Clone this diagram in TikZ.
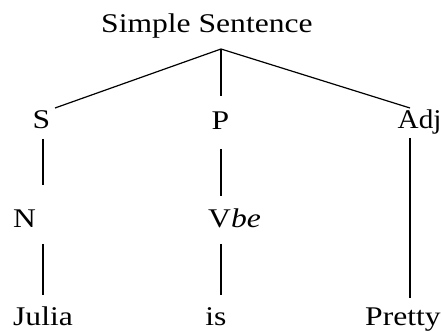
\documentclass[tikz,border=0pt]{standalone}
\usepackage{fontspec}
\usepackage{graphicx}
\setmainfont{Liberation Serif}
\newcommand{\wide}[1]{\scalebox{1.17}[1]{#1}}
\begin{document}
\begin{tikzpicture}[x=1pt,y=-1pt,
  lbl/.style={inner sep=0pt,font=\fontsize{27}{30}\selectfont},
  edge/.style={line width=1.2pt,black}]
\useasboundingbox (0,0) rectangle (442,331);
% nodes
\node[lbl,anchor=base west] (ss) at (101,33) {\wide{Simple Sentence}};
\node[lbl,anchor=base] (s) at (41.5,129) {\wide{S}};
\node[lbl,anchor=base] (p) at (220.5,130) {\wide{P}};
\node[lbl,anchor=base west] (adj) at (397.5,129) {\scalebox{1.08}[1]{Adj}};
\node[lbl,anchor=base west] (n) at (13,228) {\wide{N}};
\node[lbl,anchor=base west] (v) at (208,228) {\wide{V\textit{be}}};
\node[lbl,anchor=base west] (julia) at (13,325) {\wide{Julia}};
\node[lbl,anchor=base] (is) at (216,325) {\wide{is}};
\node[lbl,anchor=base west] (pretty) at (365,325) {\wide{Pretty}};
% connector end points
\coordinate (apex) at (221,49);
\coordinate (sT) at (55,108);
\coordinate (pT) at (221,96);
\coordinate (adjT) at (410,108);
\coordinate (sB) at (43,139);
\coordinate (nT) at (43,185);
\coordinate (pB) at (221,149);
\coordinate (vT) at (221,196);
\coordinate (nB) at (43,244);
\coordinate (juliaT) at (43,295);
\coordinate (vB) at (221,244);
\coordinate (isT) at (221,295);
\coordinate (adjB) at (410,138);
\coordinate (prettyT) at (410,298);
% connectors
\draw[edge] (apex) -- (sT);
\draw[edge] (apex) -- (pT);
\draw[edge] (apex) -- (adjT);
\draw[edge] (sB) -- (nT);
\draw[edge] (pB) -- (vT);
\draw[edge] (nB) -- (juliaT);
\draw[edge] (vB) -- (isT);
\draw[edge] (adjB) -- (prettyT);
\end{tikzpicture}
\end{document}
